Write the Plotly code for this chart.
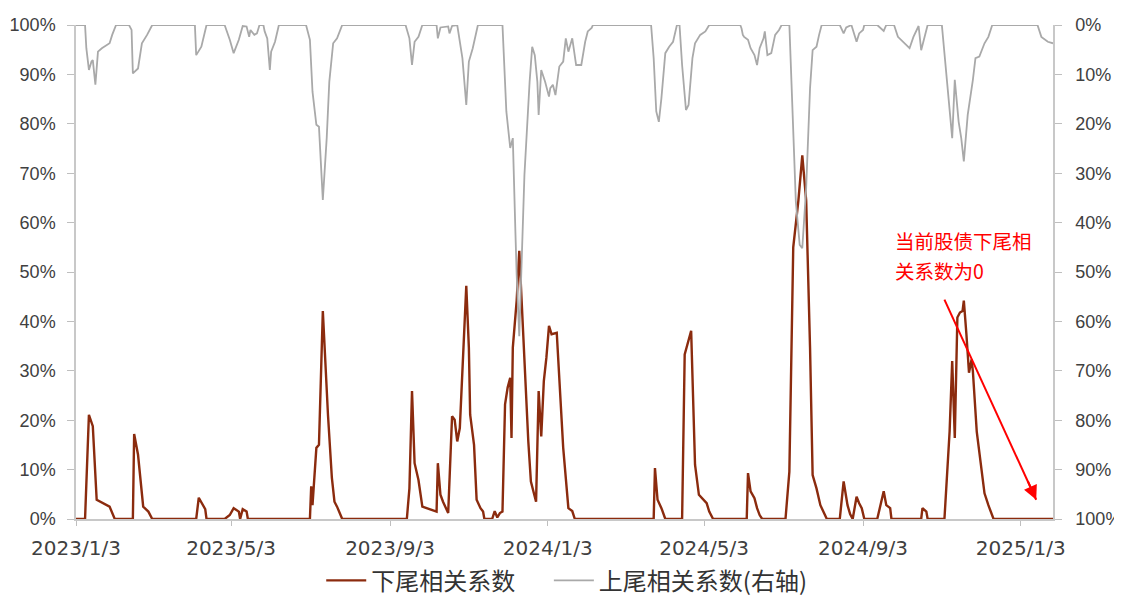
import plotly.graph_objects as go

# ---- data ----
lower_dates = [
    "2023-01-03", "2023-01-10", "2023-01-13", "2023-01-16", "2023-01-19", "2023-01-29", "2023-02-02",
    "2023-02-16", "2023-02-17", "2023-02-20", "2023-02-24", "2023-02-28", "2023-03-03",
    "2023-04-06", "2023-04-08", "2023-04-10", "2023-04-13", "2023-04-14", "2023-04-28",
    "2023-05-02", "2023-05-05", "2023-05-09", "2023-05-10", "2023-05-12", "2023-05-15", "2023-05-16",
    "2023-07-03", "2023-07-04", "2023-07-05", "2023-07-08", "2023-07-10", "2023-07-13", "2023-07-15",
    "2023-07-17", "2023-07-20", "2023-07-22", "2023-07-24", "2023-07-28",
    "2023-09-16", "2023-09-18", "2023-09-20", "2023-09-22", "2023-09-25", "2023-09-28",
    "2023-10-09", "2023-10-10", "2023-10-12", "2023-10-14", "2023-10-18", "2023-10-21", "2023-10-23",
    "2023-10-25", "2023-10-27", "2023-10-29", "2023-10-30", "2023-11-01", "2023-11-03", "2023-11-04",
    "2023-11-07", "2023-11-09", "2023-11-12", "2023-11-14", "2023-11-15", "2023-11-21", "2023-11-23",
    "2023-11-25", "2023-11-27", "2023-11-29", "2023-12-01", "2023-12-03", "2023-12-05", "2023-12-06",
    "2023-12-07", "2023-12-10", "2023-12-12", "2023-12-14", "2023-12-16", "2023-12-19", "2023-12-21",
    "2023-12-24", "2023-12-25", "2023-12-27", "2023-12-29", "2023-12-31", "2024-01-02", "2024-01-04",
    "2024-01-06", "2024-01-10", "2024-01-13", "2024-01-15", "2024-01-19", "2024-01-22", "2024-01-24",
    "2024-03-25", "2024-03-26", "2024-03-28", "2024-03-31", "2024-04-01", "2024-04-03",
    "2024-04-16", "2024-04-18", "2024-04-23", "2024-04-26", "2024-04-29", "2024-05-05", "2024-05-07",
    "2024-05-10", "2024-06-05", "2024-06-06", "2024-06-08", "2024-06-11", "2024-06-13", "2024-06-15",
    "2024-06-17", "2024-07-05", "2024-07-08", "2024-07-11", "2024-07-15", "2024-07-18", "2024-07-21",
    "2024-07-24", "2024-07-26", "2024-07-29", "2024-08-01", "2024-08-05", "2024-08-06", "2024-08-16",
    "2024-08-19", "2024-08-22", "2024-08-24", "2024-08-26", "2024-08-29", "2024-08-31", "2024-09-02",
    "2024-09-04", "2024-09-14", "2024-09-19", "2024-09-21", "2024-09-24", "2024-09-25", "2024-10-18",
    "2024-10-19", "2024-10-22", "2024-10-23", "2024-11-05", "2024-11-09", "2024-11-11", "2024-11-13",
    "2024-11-15", "2024-11-17", "2024-11-19", "2024-11-20", "2024-11-22", "2024-11-24", "2024-11-26",
    "2024-11-27", "2024-11-30", "2024-12-04", "2024-12-06", "2024-12-09", "2024-12-13", "2025-01-28",
]
lower_values = [
    0, 0, 21.1, 18.8, 3.9, 2.5, 0,
    0, 17.2, 13.0, 2.5, 1.5, 0,
    0, 4.3, 3.3, 2.0, 0, 0,
    0.8, 2.2, 1.5, 0, 2.0, 1.5, 0,
    0, 6.6, 2.8, 14.4, 15.0, 42.1, 31.3,
    21.0, 8.3, 3.5, 2.5, 0,
    0, 6.2, 25.9, 11.3, 7.9, 2.5,
    1.5, 11.3, 4.9, 3.5, 1.2, 20.8, 20.1,
    15.7, 18.4, 30.6, 36.0, 47.2, 34.7, 21.1,
    15.0, 3.9, 2.2, 1.5, 0, 0, 1.6,
    0.3, 1.2, 1.5, 23.2, 26.6, 28.6, 16.4,
    34.7, 44.2, 54.3, 43.5, 30.6, 15.7, 7.6,
    4.5, 3.5, 25.9, 16.7, 27.9, 32.7, 39.1,
    37.4, 37.7, 22.5, 14.4, 2.2, 1.6, 0,
    0, 10.3, 3.9, 2.2, 1.5, 0,
    0, 33.3, 38.1, 11.0, 4.9, 3.2, 1.5,
    0, 0, 9.3, 5.6, 4.2, 2.2, 0.8,
    0, 0, 9.6, 55.0, 64.5, 73.6, 64.5,
    34.7, 8.9, 6.2, 2.8, 0.8, 0, 0,
    7.6, 2.8, 1.0, 0, 4.5, 3.2, 2.2,
    0, 0, 5.6, 2.8, 2.2, 0, 0,
    2.2, 1.5, 0, 0, 17.7, 32.0, 16.4,
    40.8, 41.8, 42.1, 44.2, 37.4, 29.6, 32.3,
    29.9, 17.7, 8.6, 5.2, 2.8, 0, 0,
]

upper_dates = [
    "2023-01-03", "2023-01-10", "2023-01-11", "2023-01-13", "2023-01-15", "2023-01-16", "2023-01-18",
    "2023-01-20", "2023-01-23", "2023-01-29", "2023-01-31", "2023-02-03", "2023-02-13", "2023-02-15",
    "2023-02-16", "2023-02-20", "2023-02-23", "2023-02-27", "2023-03-03", "2023-04-05", "2023-04-06",
    "2023-04-10", "2023-04-14", "2023-04-28", "2023-05-02", "2023-05-05", "2023-05-09", "2023-05-12",
    "2023-05-15", "2023-05-17", "2023-05-18", "2023-05-21", "2023-05-23", "2023-05-25", "2023-05-28",
    "2023-05-29", "2023-05-31", "2023-06-02", "2023-06-03", "2023-06-06", "2023-06-09", "2023-06-30",
    "2023-07-03", "2023-07-05", "2023-07-08", "2023-07-10", "2023-07-13", "2023-07-16", "2023-07-18",
    "2023-07-21", "2023-07-24", "2023-07-28", "2023-09-15", "2023-09-18", "2023-09-20", "2023-09-22",
    "2023-09-25", "2023-09-28", "2023-10-09", "2023-10-10", "2023-10-12", "2023-10-18", "2023-10-19",
    "2023-10-21", "2023-10-25", "2023-10-29", "2023-11-01", "2023-11-03", "2023-11-06", "2023-11-10",
    "2023-11-29", "2023-12-02", "2023-12-05", "2023-12-07", "2023-12-09", "2023-12-10", "2023-12-12",
    "2023-12-14", "2023-12-16", "2023-12-20", "2023-12-22", "2023-12-24", "2023-12-26", "2023-12-27",
    "2023-12-29", "2024-01-01", "2024-01-04", "2024-01-05", "2024-01-07", "2024-01-09", "2024-01-12",
    "2024-01-15", "2024-01-17", "2024-01-19", "2024-01-22", "2024-01-25", "2024-01-29", "2024-02-01",
    "2024-02-03", "2024-02-06", "2024-02-07", "2024-03-23", "2024-03-25", "2024-03-27", "2024-03-29",
    "2024-03-31", "2024-04-03", "2024-04-06", "2024-04-09", "2024-04-12", "2024-04-14", "2024-04-16",
    "2024-04-19", "2024-04-21", "2024-04-24", "2024-04-26", "2024-04-30", "2024-05-04", "2024-05-07",
    "2024-05-31", "2024-06-01", "2024-06-02", "2024-06-03", "2024-06-06", "2024-06-08", "2024-06-11",
    "2024-06-13", "2024-06-15", "2024-06-18", "2024-06-19", "2024-06-21", "2024-06-24", "2024-06-27",
    "2024-06-30", "2024-07-02", "2024-07-08", "2024-07-11", "2024-07-13", "2024-07-16", "2024-07-18",
    "2024-07-21", "2024-07-24", "2024-07-26", "2024-07-29", "2024-07-31", "2024-08-02", "2024-08-16",
    "2024-08-19", "2024-08-21", "2024-08-25", "2024-08-29", "2024-08-31", "2024-09-03", "2024-09-04",
    "2024-09-14", "2024-09-16", "2024-09-19", "2024-09-21", "2024-09-27", "2024-09-30", "2024-10-04",
    "2024-10-09", "2024-10-12", "2024-10-14", "2024-10-16", "2024-10-18", "2024-10-21", "2024-10-23",
    "2024-11-03", "2024-11-08", "2024-11-11", "2024-11-13", "2024-11-16", "2024-11-18", "2024-11-20",
    "2024-11-23", "2024-11-26", "2024-11-27", "2024-11-29", "2024-12-02", "2024-12-06", "2024-12-09",
    "2024-12-12", "2025-01-16", "2025-01-19", "2025-01-24", "2025-01-28",
]
upper_values = [
    0, 0, 4.7, 9.1, 7.4, 7.1, 12.1,
    5.4, 4.7, 3.7, 2.0, 0, 0, 1.0,
    9.8, 8.8, 3.7, 2.0, 0, 0, 6.1,
    4.4, 0, 0, 3.0, 5.7, 3.0, 0.2,
    0.3, 2.4, 1.0, 2.0, 1.7, 0, 0,
    1.3, 2.7, 9.1, 5.4, 3.4, 0, 0,
    3.0, 13.5, 20.2, 20.6, 35.4, 22.9, 11.5,
    3.7, 2.7, 0, 0, 2.7, 8.1, 3.4,
    2.4, 0, 0, 2.7, 0.5, 0.3, 1.7,
    0.2, 0, 6.7, 16.2, 7.4, 4.7, 0,
    0, 17.5, 24.9, 22.9, 41.8, 50.6, 63.0,
    45.2, 30.3, 11.5, 4.4, 6.1, 11.5, 18.2,
    9.1, 11.5, 14.5, 12.8, 12.1, 14.2, 8.4,
    7.4, 2.7, 5.4, 2.7, 8.1, 8.1, 3.4,
    1.3, 0.6, 0, 0, 6.7, 17.5, 19.6,
    14.8, 5.7, 4.4, 3.4, 0, 0, 8.1,
    17.2, 16.2, 6.7, 3.7, 2.0, 1.3, 0,
    0, 0.7, 2.0, 2.4, 3.0, 4.7, 6.1,
    8.1, 4.7, 2.7, 1.3, 6.1, 5.7, 2.0,
    1.0, 0, 0, 23.6, 35.7, 44.5, 45.2,
    33.0, 12.8, 5.1, 4.4, 2.0, 0, 0,
    1.7, 0.5, 0, 3.4, 1.7, 1.0, 0,
    0, 0.5, 1.2, 0, 0, 2.4, 3.4,
    4.7, 2.4, 1.3, 0.2, 5.1, 2.0, 0,
    0, 14.2, 22.9, 11.1, 19.6, 22.9, 27.6,
    18.2, 13.1, 11.1, 6.7, 6.4, 3.7, 2.4,
    0, 0, 2.4, 3.4, 3.7,
]

x_tick_dates = ["2023-01-03", "2023-05-03", "2023-09-03", "2024-01-03",
                "2024-05-03", "2024-09-03", "2025-01-03"]
x_tick_labels = ["2023/1/3", "2023/5/3", "2023/9/3", "2024/1/3",
                 "2024/5/3", "2024/9/3", "2025/1/3"]
y_ticks = [0, 10, 20, 30, 40, 50, 60, 70, 80, 90, 100]
y_tick_labels = ["0%", "10%", "20%", "30%", "40%", "50%", "60%", "70%", "80%", "90%", "100%"]
x_range = ["2023-01-03", "2025-01-28"]

series_names = ["下尾相关系数", "上尾相关系数(右轴)"]
note_lines = ["当前股债下尾相", "关系数为0"]
note_x = "2024-09-26"
note_y = [56.3, 50.4]
# arrow from the note down to the current (zero) value: tail and head
arrow_tail = ("2024-11-05", 44.4)
arrow_head = ("2025-01-15", 3.9)

# ---- figure ----
BROWN = "#8B2B0E"
GREY = "#A9A9A9"
RED = "#FF0000"
TICK_FONT = dict(family="Liberation Sans, Arial, sans-serif", size=18, color="#404040")
CJK = "Noto Sans CJK SC, sans-serif"
LEGEND_FONT = dict(family=CJK, size=24, color="#333333")

fig = go.Figure()
fig.add_trace(go.Scatter(
    x=lower_dates, y=lower_values, name=series_names[0], mode="lines",
    line=dict(color=BROWN, width=2.4), yaxis="y", legend="legend",
))
fig.add_trace(go.Scatter(
    x=upper_dates, y=upper_values, name=series_names[1], mode="lines",
    line=dict(color=GREY, width=1.8), yaxis="y2", legend="legend2",
))

fig.update_layout(
    width=1122, height=612,
    margin=dict(l=68, r=77, t=17, b=101, autoexpand=False),
    paper_bgcolor="white", plot_bgcolor="white",
    showlegend=True,
    legend=dict(orientation="h", x=0.251, xanchor="left", y=-0.125, yanchor="middle",
                font=LEGEND_FONT, itemwidth=40, bgcolor="rgba(0,0,0,0)"),
    legend2=dict(orientation="h", x=0.484, xanchor="left", y=-0.125, yanchor="middle",
                 font=LEGEND_FONT, itemwidth=40, bgcolor="rgba(0,0,0,0)"),
    xaxis=dict(
        type="date", range=x_range, tickvals=x_tick_dates, ticktext=x_tick_labels,
        automargin=False,
        showgrid=False, zeroline=False, showline=True, linecolor="#C8C8C8", linewidth=2,
        ticks="outside", ticklen=5, tickcolor="#BFBFBF", ticklabelstandoff=5,
        tickfont=dict(family="DejaVu Sans, sans-serif", size=20, color="#404040"),
    ),
    yaxis=dict(
        range=[0, 100], tickvals=y_ticks, ticktext=y_tick_labels, showgrid=False, zeroline=False,
        automargin=False,
        showline=True, linecolor="#C8C8C8", linewidth=1.5, ticks="outside", ticklen=7,
        tickcolor="#BFBFBF", tickfont=TICK_FONT, ticklabelstandoff=8,
    ),
    yaxis2=dict(
        range=[100, 0], tickvals=y_ticks, ticktext=y_tick_labels, overlaying="y", side="right",
        automargin=False,
        showgrid=False, zeroline=False, showline=True, linecolor="#C8C8C8", linewidth=1.5,
        ticks="outside", ticklen=7, tickcolor="#BFBFBF", tickfont=TICK_FONT, ticklabelstandoff=10,
    ),
)

for line_text, yv in zip(note_lines, note_y):
    fig.add_annotation(
        x=note_x, y=yv, xref="x", yref="y", text=line_text, showarrow=False,
        xanchor="left", yanchor="middle", align="left",
        font=dict(family=CJK, size=19.5, color=RED),
    )
# arrow shaft
fig.add_shape(
    type="line", xref="x", yref="y",
    x0=arrow_tail[0], y0=arrow_tail[1], x1=arrow_head[0], y1=arrow_head[1],
    line=dict(color=RED, width=2),
)
# arrow head only (short arrow ending at the head point)
fig.add_annotation(
    x=arrow_head[0], y=arrow_head[1], xref="x", yref="y",
    ax=-9, ay=-20, text="", showarrow=True,
    arrowhead=2, arrowsize=1.4, arrowwidth=2, arrowcolor=RED,
)

fig.write_html("out.html")
